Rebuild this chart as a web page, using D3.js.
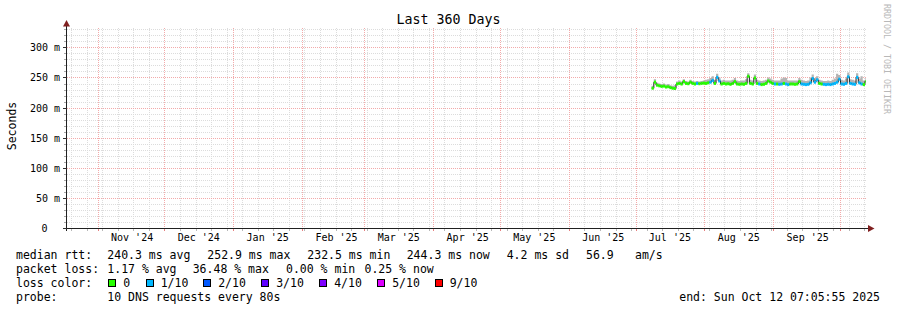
<!DOCTYPE html>
<html><head><meta charset="utf-8">
<script src="https://cdn.jsdelivr.net/npm/d3@7"></script>
<style>
body{margin:0;background:#fff}
text{font-family:"DejaVu Sans Mono",monospace;fill:#000}
</style>
</head><body><svg id="c" width="897" height="310"></svg>
<script>
// ---------- data ----------
const title = "Last 360 Days";
const yLabel = "Seconds";
const endTime = new Date(2025, 9, 12, 7, 5, 55);
const spanDays = 360;
const yTicks = [0, 50, 100, 150, 200, 250, 300];
const yMax = 332.2;

const dates = [
 "2025-07-08","2025-07-09","2025-07-10","2025-07-11","2025-07-12","2025-07-13","2025-07-14","2025-07-15","2025-07-16","2025-07-17",
 "2025-07-18","2025-07-19","2025-07-20","2025-07-21","2025-07-22","2025-07-23","2025-07-24","2025-07-25","2025-07-26","2025-07-27",
 "2025-07-28","2025-07-29","2025-07-30","2025-07-31",
 "2025-08-01","2025-08-02","2025-08-03","2025-08-04","2025-08-05","2025-08-06","2025-08-07","2025-08-08","2025-08-09","2025-08-10",
 "2025-08-11","2025-08-12","2025-08-13","2025-08-14","2025-08-15","2025-08-16","2025-08-17","2025-08-18","2025-08-19","2025-08-20",
 "2025-08-21","2025-08-22","2025-08-23","2025-08-24","2025-08-25","2025-08-26","2025-08-27","2025-08-28","2025-08-29","2025-08-30","2025-08-31",
 "2025-09-01","2025-09-02","2025-09-03","2025-09-04","2025-09-05","2025-09-06","2025-09-07","2025-09-08","2025-09-09","2025-09-10",
 "2025-09-11","2025-09-12","2025-09-13","2025-09-14","2025-09-15","2025-09-16","2025-09-17","2025-09-18","2025-09-19","2025-09-20",
 "2025-09-21","2025-09-22","2025-09-23","2025-09-24","2025-09-25","2025-09-26","2025-09-27","2025-09-28","2025-09-29","2025-09-30",
 "2025-10-01","2025-10-02","2025-10-03","2025-10-04","2025-10-05","2025-10-06","2025-10-07","2025-10-08","2025-10-09","2025-10-10",
 "2025-10-11","2025-10-12"
];
// median rtt in ms
const median = [
 233,243,238,237,236,236.5,235,235.5,234,233,232.5,240,241,240,244,241,240.5,243,241,240,241,240.5,241,241.5,
 241,242,243,246,241,251,245,240,241,240,240.5,239.5,241,244,240,239.5,240,239.5,241,252.9,241,240,250,241,240,239,239.5,241,245,243,241,
 240,240,239.5,240,241,240,239,240,240,239.5,240,244,240,239.5,239,239.5,242,249,243,247,241,240,239.5,239,239.5,239,240,241,243,248,
 240,239.5,241,252,241,240,239.5,251,242,240,239,244.3
];
// top of the smoke in ms
const smokeHi = [
 237,248,242,241,240,241,239,240,238,237,238,244,246,244,248,245,244,247,245,244,245,244,245,246,
 247,248,250,253,247,257,251,246,247,246,246,246,247,250,246,245,246,246,248,258,247,246,256,247,246,245,246,247,251,249,247,
 246,246,246,249,251,250,246,246,246,246,246,250,247,246,245,246,251,256,250,253,247,246,245,245,246,245,247,249,257,255,
 247,246,249,259,248,247,246,258,249,253,246,250
];
// packet loss level (index into lossColors)
const lossLevel = [
 0,0,0,0,0,0,0,0,0,0,0,0,0,0,0,0,0,0,0,0,1,0,0,0,
 0,0,1,1,0,1,1,0,0,0,0,0,0,0,0,0,0,0,0,0,0,0,0,0,1,0,0,0,0,0,0,
 1,0,1,1,0,1,1,0,0,0,0,0,1,1,1,1,1,1,1,1,0,0,1,1,1,1,1,1,1,1,
 1,1,1,1,1,1,1,1,1,1,0,0
];
const lossLegend = ["0","1/10","2/10","3/10","4/10","5/10","9/10"];
const lossColors = ["#26ff00","#00b8ff","#0059ff","#5e00ff","#7e00ff","#dd00ff","#ff0000"];
const statsRtt = ["240.3 ms avg","252.9 ms max","232.5 ms min","244.3 ms now","4.2 ms sd","56.9","am/s"];
const statsLoss = ["1.17 % avg","36.48 % max","0.00 % min","0.25 % now"];
const probeText = "10 DNS requests every 80s";
const endText = "end: Sun Oct 12 07:05:55 2025";
const watermark = "RRDTOOL / TOBI OETIKER";

// ---------- layout ----------
const svg = d3.select("#c");
svg.append("rect").attr("width",897).attr("height",310).attr("fill","#fff");
const PL = 67, PR = 867, PT = 28, PB = 228;
const startTime = d3.timeDay.offset(endTime, -spanDays);
const x = d3.scaleTime().domain([startTime, endTime]).range([65.6, 865.6]);
const y = d3.scaleLinear().domain([0, yMax]).range([228.5, 28.5]);
const px = v => Math.floor(v) + 0.5;
const parse = d3.timeParse("%Y-%m-%d");
const pts = dates.map((d,i) => ({t: parse(d), m: median[i], hi: smokeHi[i], l: lossLevel[i]}));

const MINOR = "#dcdcdc", MAJOR = "#f3aaaa";
const grid = svg.append("g").attr("shape-rendering","crispEdges");
d3.range(10, yMax, 10).filter(v => v % 50 !== 0).forEach(v => {
  grid.append("line").attr("x1",PL).attr("x2",PR).attr("y1",px(y(v))).attr("y2",px(y(v)))
    .attr("stroke",MINOR).attr("stroke-dasharray","1,1");
});
d3.timeSunday.range(startTime, endTime).forEach(d => {
  const xx = px(x(d));
  if (xx < PL) return;
  grid.append("line").attr("x1",xx).attr("x2",xx).attr("y1",PT).attr("y2",PB)
    .attr("stroke",MINOR).attr("stroke-dasharray","1,1");
});
yTicks.filter(v => v > 0).forEach(v => {
  grid.append("line").attr("x1",PL).attr("x2",PR).attr("y1",px(y(v))).attr("y2",px(y(v)))
    .attr("stroke",MAJOR).attr("stroke-dasharray","1,1");
});
d3.timeMonth.range(startTime, endTime).forEach(d => {
  const xx = px(x(d));
  grid.append("line").attr("x1",xx).attr("x2",xx).attr("y1",PT).attr("y2",PB)
    .attr("stroke",MAJOR).attr("stroke-dasharray","1,1");
});

// ---------- data ----------
const series = pts.concat([{t: endTime, m: pts[pts.length-1].m, hi: pts[pts.length-1].hi}]);
svg.append("path").datum(series)
  .attr("d", d3.area().curve(d3.curveStepAfter).x(d => x(d.t)).y0(d => y(d.m)).y1(d => y(d.hi)))
  .attr("fill","#b4b4b4");
svg.append("path").datum(series)
  .attr("d", d3.line().curve(d3.curveStepAfter).x(d => x(d.t)).y(d => y(d.m)))
  .attr("fill","none").attr("stroke","#202020").attr("stroke-width",1);
const segG = svg.append("g");
pts.forEach((p,i) => {
  const t1 = i < pts.length-1 ? pts[i+1].t : endTime;
  segG.append("line").attr("x1",x(p.t)).attr("x2",x(t1)).attr("y1",y(p.m)).attr("y2",y(p.m))
    .attr("stroke", lossColors[p.l]).attr("stroke-width",3);
});

// ---------- axes ----------
const ax = svg.append("g").attr("shape-rendering","crispEdges");
d3.range(10, yMax, 10).filter(v => v % 50 !== 0).forEach(v => {
  ax.append("line").attr("x1",64).attr("x2",66.5).attr("y1",px(y(v))).attr("y2",px(y(v))).attr("stroke","#a8a8a8");
});
d3.timeSunday.range(startTime, endTime).forEach(d => {
  const xx = px(x(d)); if (xx < PL) return;
  ax.append("line").attr("x1",xx).attr("x2",xx).attr("y1",228).attr("y2",231).attr("stroke","#b8b8b8");
});
d3.timeMonth.range(startTime, endTime).forEach(d => {
  const xx = px(x(d));
  ax.append("line").attr("x1",xx).attr("x2",xx).attr("y1",228).attr("y2",231).attr("stroke","#e68080");
});

const yAxis = svg.append("g").attr("transform","translate(66.5,0)")
  .call(d3.axisLeft(y).tickValues(yTicks).tickSize(4).tickPadding(2.5)
    .tickFormat(v => v === 0 ? "0" : v + " m"));
yAxis.select(".domain").remove();
yAxis.selectAll(".tick").attr("transform", d => `translate(0,${px(y(d))})`);
yAxis.selectAll(".tick line").attr("stroke","#303030").attr("shape-rendering","crispEdges");
yAxis.selectAll(".tick text").attr("font-size",10).style("fill","#000")
  .attr("dy","0.35em").attr("x", d => d === 0 ? -19 : -6.5);

const labelDates = d3.timeMonth.range(d3.timeMonth.ceil(startTime), d3.timeMonth.floor(endTime)).map(d => d3.timeDay.offset(d, 15));
const xAxis = svg.append("g").attr("transform","translate(0,228.5)")
  .call(d3.axisBottom(x).tickValues(labelDates).tickSize(0).tickFormat(d3.timeFormat("%b '%y")));
xAxis.select(".domain").remove();
xAxis.selectAll(".tick text").attr("font-size",10).style("fill","#000").attr("y",12.5).attr("dy",0);

ax.append("line").attr("x1",62.5).attr("x2",868).attr("y1",228.5).attr("y2",228.5).attr("stroke","#202020");
ax.append("line").attr("x1",66.5).attr("x2",66.5).attr("y1",231).attr("y2",25).attr("stroke","#202020");
svg.append("path").attr("d","M66.5,20 L63,26.5 L70,26.5 Z").attr("fill","#802020");
svg.append("path").attr("d","M874.5,228.5 L868,225 L868,232 Z").attr("fill","#802020");

// ---------- texts ----------
svg.append("text").attr("x",448.5).attr("y",24).attr("text-anchor","middle").attr("font-size",13.3).text(title);
svg.append("text").attr("transform","translate(16,126) rotate(-90)").attr("text-anchor","middle")
  .attr("font-size",11.5).text(yLabel);
svg.append("text").attr("transform","translate(884,4) rotate(90)").attr("font-size",8.3)
  .style("fill","#b8b8b8").text(watermark);

const FS = 11.5;
const row = (txt, xx, yy, anchor) => svg.append("text").attr("x",xx).attr("y",yy).attr("font-size",FS)
  .attr("text-anchor", anchor || "start").style("white-space","pre").text(txt);
const r1 = 258.5, r2 = 272.5, r3 = 286.5, r4 = 300.5;
row("median rtt:", 16, r1);
[107.3, 207.3, 307.3, 406.7, 506.7, 586, 635].forEach((xx,i) => row(statsRtt[i], xx, r1));
row("packet loss:", 16, r2);
[107.3, 192.7, 286, 364.5].forEach((xx,i) => row(statsLoss[i], xx, r2));
row("loss color:", 16, r3);
[108.5, 146, 203.5, 261.5, 319.5, 377.5, 435].forEach((xx,i) => {
  svg.append("rect").attr("x",xx).attr("y",279.5).attr("width",7).attr("height",7)
    .attr("fill",lossColors[i]).attr("stroke","#000").attr("stroke-width",1).attr("shape-rendering","crispEdges");
  row(lossLegend[i], xx + 14.7, r3);
});
row("probe:", 16, r4);
row(probeText, 107.3, r4);
row(endText, 880, r4, "end");
</script>
</body></html>
